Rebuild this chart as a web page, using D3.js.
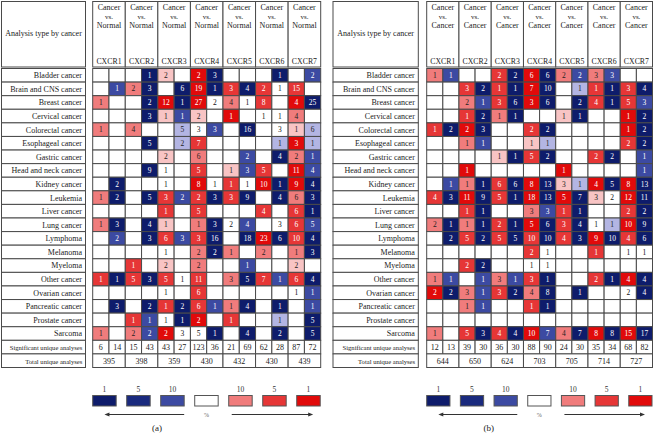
<!DOCTYPE html>
<html><head><meta charset="utf-8">
<script src="https://cdn.jsdelivr.net/npm/d3@7"></script>
<style>body{margin:0;background:#fff}svg{display:block}</style>
</head><body><svg id="c" width="654" height="436"></svg>
<script>
const _ = null;
const cancerTypes = ["Bladder cancer","Brain and CNS cancer","Breast cancer","Cervical cancer","Colorectal cancer","Esophageal cancer","Gastric cancer","Head and neck cancer","Kidney cancer","Leukemia","Liver cancer","Lung cancer","Lymphoma","Melanoma","Myeloma","Other cancer","Ovarian cancer","Pancreatic cancer","Prostate cancer","Sarcoma"];
const genes = ["CXCR1","CXCR2","CXCR3","CXCR4","CXCR5","CXCR6","CXCR7"];
const summaryRows = ["Significant unique analyses","Total unique analyses"];
const legendLabels = ["1","5","10","","10","5","1"];
const legendRanks = [1,5,10,0,10,5,1];
const rankLevels = [1,5,10,25];

// Cancer vs. Normal: counts per column (over, under for each gene)
const normalCounts = [
 [_,_,_,1,2,_,2,3,_,_,_,1,_,2],
 [_,1,2,3,_,6,19,1,3,4,2,1,15,_],
 [1,_,_,2,12,1,27,2,4,1,8,_,4,25],
 [_,_,_,3,1,1,2,_,1,_,1,1,4,_],
 [1,_,4,_,_,5,3,3,_,16,_,3,1,6],
 [_,_,_,5,_,2,7,_,_,_,_,1,3,1],
 [_,_,_,_,2,_,6,_,_,2,_,4,2,1],
 [_,_,_,9,1,_,5,_,1,3,5,_,11,4],
 [_,2,_,_,1,_,8,1,1,1,10,1,9,4],
 [1,2,_,5,3,2,2,3,3,9,_,4,6,3],
 [_,_,_,_,1,_,5,_,_,_,4,_,6,1],
 [1,3,_,4,1,_,1,3,2,4,_,3,6,5],
 [_,2,_,3,6,3,3,16,_,18,23,6,10,4],
 [_,_,_,_,1,_,2,2,1,_,2,_,1,3],
 [_,_,1,_,2,_,2,_,_,1,_,_,2,_],
 [1,1,5,3,5,1,11,_,3,5,7,1,6,4],
 [_,_,_,_,1,_,6,_,_,_,_,_,1,1],
 [_,3,_,2,1,2,6,1,1,4,_,1,_,1],
 [_,_,1,1,1,1,2,_,1,_,_,1,_,5],
 [1,_,2,2,2,3,5,1,_,4,_,2,_,5]
];
// gene rank percentile class of each cell (0 = not significant)
const normalRanks = [
 [0,0,0,1,25,0,1,1,0,0,0,1,0,10],
 [0,10,10,1,0,1,1,1,5,1,5,0,5,0],
 [10,0,0,1,1,1,1,0,10,0,5,0,1,1],
 [0,0,0,1,25,10,25,0,1,0,0,0,10,0],
 [10,0,10,0,0,25,0,10,0,1,0,0,25,25],
 [0,0,0,1,0,25,5,0,0,0,0,25,1,25],
 [0,0,0,0,25,0,10,0,0,10,0,1,10,10],
 [0,0,0,1,0,0,5,0,25,10,5,0,1,10],
 [0,1,0,0,0,0,1,0,5,0,1,1,1,1],
 [10,1,0,1,5,10,5,1,5,1,0,1,10,1],
 [0,0,0,0,5,0,5,0,0,0,5,0,5,1],
 [10,1,0,1,25,0,10,1,0,10,0,0,5,10],
 [0,10,0,1,5,10,5,1,0,1,1,1,5,1],
 [0,0,0,0,0,0,10,1,10,0,10,0,10,1],
 [0,0,5,0,25,0,10,0,0,10,0,0,25,0],
 [5,1,5,1,5,0,5,0,10,1,5,10,5,1],
 [0,0,0,0,0,0,5,0,0,0,0,0,0,10],
 [0,1,0,1,5,1,5,10,10,1,0,1,0,10],
 [0,0,5,10,0,1,1,0,5,0,0,25,0,1],
 [10,0,10,10,1,0,0,1,0,1,0,1,0,1]
];
const normalSignificant = [6,14,15,43,43,27,123,36,21,69,62,28,87,72];
const normalTotals = [395,398,359,430,432,430,439];

// Cancer vs. Cancer
const cancerCounts = [
 [1,1,_,_,2,2,6,6,2,2,3,3,_,_],
 [_,_,3,2,1,1,7,10,_,1,1,1,3,4],
 [_,_,2,1,3,6,3,6,_,2,4,1,5,3],
 [_,_,1,2,1,1,_,_,1,1,_,_,1,2],
 [1,2,2,3,_,_,2,2,_,_,_,_,1,2],
 [_,_,1,1,_,_,1,1,_,_,_,_,2,2],
 [_,_,_,_,1,1,5,2,_,_,2,2,_,1],
 [_,_,1,_,_,_,_,_,1,_,_,_,_,1],
 [_,1,1,1,6,6,8,13,3,1,4,5,8,13],
 [4,3,11,9,5,1,18,13,5,7,3,2,12,11],
 [_,_,1,1,_,_,3,3,1,1,_,_,2,2],
 [2,1,1,1,2,1,5,6,3,4,1,1,10,9],
 [_,2,5,2,5,5,10,10,4,3,9,10,4,6],
 [_,_,_,_,_,_,2,1,_,_,1,_,1,1],
 [_,_,2,2,_,_,1,1,_,_,_,_,_,_],
 [1,1,_,1,3,1,3,1,_,_,2,1,4,4],
 [2,2,3,1,3,2,4,8,_,1,_,_,2,4],
 [_,_,1,1,_,_,1,1,_,_,_,_,_,_],
 [_,_,_,_,_,_,_,_,_,_,_,_,_,_],
 [1,_,5,3,4,4,10,7,4,7,8,8,15,17]
];
const cancerRanks = [
 [10,10,0,0,5,1,1,1,10,10,10,10,0,0],
 [0,0,5,1,5,1,1,1,0,25,5,1,5,1],
 [0,0,10,10,5,1,1,1,0,1,5,1,5,10],
 [0,0,5,1,10,1,0,0,25,1,0,0,1,1],
 [5,1,1,1,0,0,5,1,0,0,0,0,1,1],
 [0,0,10,10,0,0,25,25,0,0,0,0,5,1],
 [0,0,0,0,25,1,5,1,0,0,5,1,0,10],
 [0,0,1,0,0,0,0,0,1,0,0,0,0,10],
 [0,10,10,1,5,1,1,1,25,25,1,1,1,1],
 [5,1,1,1,5,1,1,1,1,1,25,0,1,1],
 [0,0,5,1,0,0,10,10,5,1,0,0,5,1],
 [10,1,10,1,5,1,1,1,5,1,0,25,1,1],
 [0,1,5,1,5,1,5,1,5,1,1,1,5,1],
 [0,0,0,0,0,0,5,0,0,0,5,0,0,0],
 [0,0,5,1,0,0,0,0,0,0,0,0,0,0],
 [10,10,0,10,10,10,5,1,0,0,5,1,1,1],
 [1,1,10,10,5,1,10,1,0,1,0,0,0,1],
 [0,0,10,10,0,0,5,1,0,0,0,0,0,0],
 [0,0,0,0,0,0,0,0,0,0,0,0,0,0],
 [10,0,5,1,5,1,1,10,10,1,1,1,1,1]
];
const cancerSignificant = [12,13,39,30,36,30,88,90,24,30,35,34,68,82];
const cancerTotals = [644,650,624,703,705,714,727];

const FONT = "'Liberation Serif','Times New Roman',serif";
const LINE = "#4a4a4a";
const redScale = d3.scaleOrdinal().domain(rankLevels).range(["#e10a0a","#e63636","#f07c7c","#f8c4c4"]);
const blueScale = d3.scaleOrdinal().domain(rankLevels).range(["#0e1c6b","#1a2a7e","#3c4aa2","#b3b5e3"]);
function cellFill(col, rank) {
  if (!rank) return "#ffffff";
  return col % 2 === 0 ? redScale(rank) : blueScale(rank);
}
function cellText(col, rank) {
  if (!rank) return "#111";
  if (col % 2 === 0) return rank <= 5 ? "#fff" : "#222";
  return rank <= 10 ? "#fff" : "#222";
}

const svg = d3.select("#c");

const panels = [
  {x0: 92.7, x1: 320.7, lx0: 1.5, lx1: 85.5, comp: "Normal", counts: normalCounts, ranks: normalRanks, sig: normalSignificant, tot: normalTotals, caption: "(a)"},
  {x0: 426.7, x1: 652.5, lx0: 333, lx1: 418.3, comp: "Cancer", counts: cancerCounts, ranks: cancerRanks, sig: cancerSignificant, tot: cancerTotals, caption: "(b)"}
];

panels.forEach(p => {
  const g = svg.append("g");
  const rows = cancerTypes.concat(summaryRows);
  const y = d3.scaleBand().domain(rows).range([68.5, 367.5]);
  const x = d3.scaleBand().domain(d3.range(14)).range([p.x0, p.x1]);
  const gx = d3.scaleBand().domain(genes).range([p.x0, p.x1]);

  // header label box
  g.append("rect").attr("x", p.lx0).attr("y", 1.5).attr("width", p.lx1 - p.lx0).attr("height", 65.5)
    .attr("fill", "#fff").attr("stroke", LINE).attr("stroke-width", 1);
  g.append("text").attr("x", (p.lx0 + p.lx1) / 2).attr("y", 36).attr("text-anchor", "middle")
    .attr("font-family", FONT).attr("font-size", 8).attr("fill", "#222").text("Analysis type by cancer");

  // gene header boxes
  const hg = g.selectAll("g.hdr").data(genes).join("g").attr("class", "hdr");
  hg.append("rect").attr("x", d => gx(d)).attr("y", 1.5).attr("width", gx.bandwidth()).attr("height", 65.5)
    .attr("fill", "#fff").attr("stroke", LINE).attr("stroke-width", 1);
  [["Cancer", 9.6], ["vs.", 18.6], [p.comp, 28.4]].forEach(([t, yy]) => {
    hg.append("text").attr("x", d => gx(d) + gx.bandwidth() / 2).attr("y", yy).attr("text-anchor", "middle")
      .attr("font-family", FONT).attr("font-size", t === "vs." ? 7 : 8).attr("fill", "#222").text(t);
  });
  hg.append("text").attr("x", d => gx(d) + gx.bandwidth() / 2).attr("y", 64).attr("text-anchor", "middle")
    .attr("font-family", FONT).attr("font-size", 7.8).attr("fill", "#222").text(d => d);

  // row label boxes
  const rl = g.selectAll("g.rl").data(rows).join("g").attr("class", "rl");
  rl.append("rect").attr("x", p.lx0).attr("y", d => y(d)).attr("width", p.lx1 - p.lx0).attr("height", y.bandwidth())
    .attr("fill", "#fff").attr("stroke", LINE).attr("stroke-width", 1);
  rl.append("text").attr("x", d => summaryRows.includes(d) ? (p.lx1 - 3.2) : (p.lx1 - 3.5))
    .attr("y", d => y(d) + y.bandwidth() / 2 + 2.9).attr("text-anchor", "end")
    .attr("font-family", FONT).attr("font-size", d => summaryRows.includes(d) ? 6.6 : 8).attr("fill", "#222").text(d => d);

  // heat cells
  const cells = [];
  cancerTypes.forEach((c, r) => d3.range(14).forEach(k => cells.push({row: c, col: k, v: p.counts[r][k], rank: p.ranks[r][k]})));
  const cg = g.selectAll("g.cell").data(cells).join("g").attr("class", "cell");
  cg.append("rect").attr("x", d => x(d.col)).attr("y", d => y(d.row)).attr("width", x.bandwidth()).attr("height", y.bandwidth())
    .attr("fill", d => cellFill(d.col, d.rank)).attr("stroke", LINE).attr("stroke-width", 1);
  cg.filter(d => d.v !== null).append("text").attr("x", d => x(d.col) + x.bandwidth() / 2)
    .attr("y", d => y(d.row) + y.bandwidth() / 2 + 2.6).attr("text-anchor", "middle")
    .attr("font-family", FONT).attr("font-size", 7.5).attr("fill", d => cellText(d.col, d.rank)).text(d => d.v);

  // significant row
  const sg = g.selectAll("g.sig").data(p.sig).join("g").attr("class", "sig");
  sg.append("rect").attr("x", (d, i) => x(i)).attr("y", y(summaryRows[0])).attr("width", x.bandwidth()).attr("height", y.bandwidth())
    .attr("fill", "#fff").attr("stroke", LINE).attr("stroke-width", 1);
  sg.append("text").attr("x", (d, i) => x(i) + x.bandwidth() / 2).attr("y", y(summaryRows[0]) + y.bandwidth() / 2 + 2.9)
    .attr("text-anchor", "middle").attr("font-family", FONT).attr("font-size", 8).attr("fill", "#222").text(d => d);

  // total row
  const tg = g.selectAll("g.tot").data(p.tot).join("g").attr("class", "tot");
  tg.append("rect").attr("x", (d, i) => gx(genes[i])).attr("y", y(summaryRows[1])).attr("width", gx.bandwidth()).attr("height", y.bandwidth())
    .attr("fill", "#fff").attr("stroke", LINE).attr("stroke-width", 1);
  tg.append("text").attr("x", (d, i) => gx(genes[i]) + gx.bandwidth() / 2).attr("y", y(summaryRows[1]) + y.bandwidth() / 2 + 2.9)
    .attr("text-anchor", "middle").attr("font-family", FONT).attr("font-size", 8).attr("fill", "#222").text(d => d);

  // legend
  const lx = d3.scaleBand().domain(d3.range(7)).range([p.x0, p.x1 - 0.5]).paddingInner(0.31);
  const lg = g.selectAll("g.leg").data(legendRanks).join("g").attr("class", "leg");
  lg.append("rect").attr("x", (d, i) => lx(i)).attr("y", 395.5).attr("width", lx.bandwidth()).attr("height", 10.5)
    .attr("fill", (d, i) => d === 0 ? "#fff" : (i < 3 ? blueScale(d) : redScale(d)))
    .attr("stroke", "#555").attr("stroke-width", 1);
  lg.append("text").attr("x", (d, i) => lx(i) + lx.bandwidth() / 2).attr("y", 391.5).attr("text-anchor", "middle")
    .attr("font-family", FONT).attr("font-size", 7.5).attr("fill", "#333").text((d, i) => legendLabels[i]);
  const ay = 414.5;
  const la0 = lx(0) + lx.bandwidth() * 0.5, la1 = lx(2) + lx.bandwidth();
  const ra0 = lx(4) + 3, ra1 = lx(6) + lx.bandwidth() * 0.7;
  g.append("line").attr("x1", la0 + 4).attr("x2", la1).attr("y1", ay).attr("y2", ay).attr("stroke", "#333").attr("stroke-width", 1);
  g.append("path").attr("d", `M${la0},${ay}L${la0 + 5},${ay - 2}L${la0 + 5},${ay + 2}Z`).attr("fill", "#333");
  g.append("line").attr("x1", ra0).attr("x2", ra1 - 4).attr("y1", ay).attr("y2", ay).attr("stroke", "#333").attr("stroke-width", 1);
  g.append("path").attr("d", `M${ra1},${ay}L${ra1 - 5},${ay - 2}L${ra1 - 5},${ay + 2}Z`).attr("fill", "#333");
  g.append("text").attr("x", lx(3) + lx.bandwidth() / 2).attr("y", ay + 2.3).attr("text-anchor", "middle")
    .attr("font-family", FONT).attr("font-size", 6).attr("fill", "#666").text("%");

  // caption
  g.append("text").attr("x", (p.lx0 + p.x1) / 2 - 4).attr("y", 431).attr("text-anchor", "middle")
    .attr("font-family", FONT).attr("font-size", 9).attr("fill", "#222").text(p.caption);
});
</script>
</body></html>
